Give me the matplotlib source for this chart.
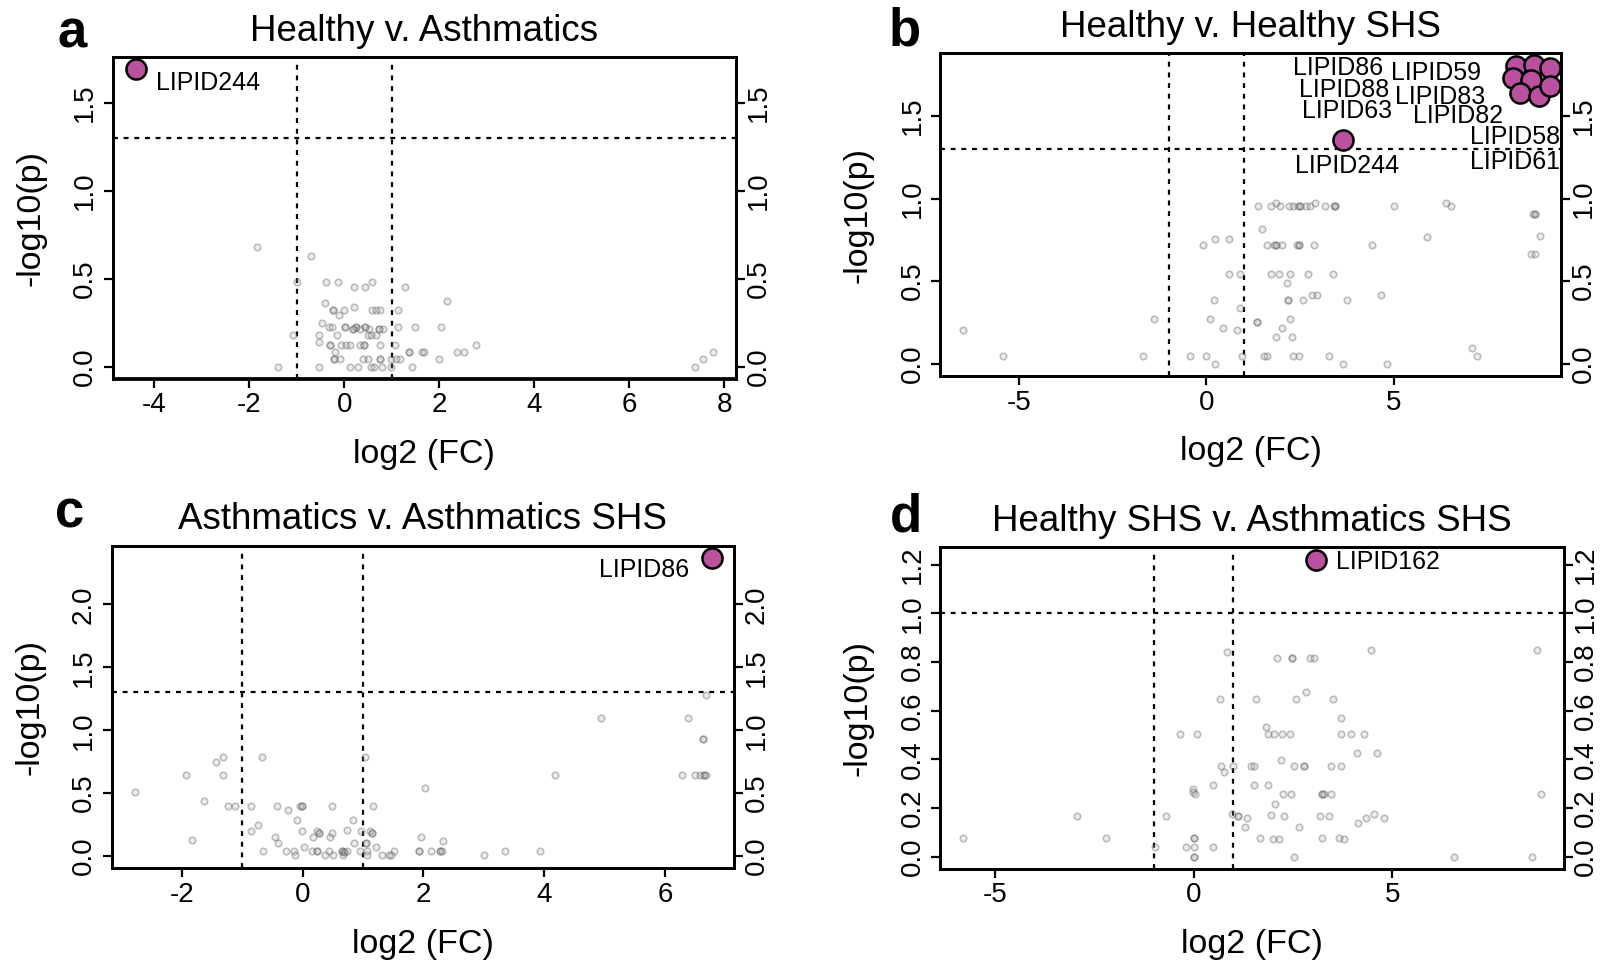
import matplotlib
matplotlib.use("Agg")
import matplotlib.pyplot as plt
from matplotlib.ticker import FormatStrFormatter

plt.rcParams['font.family'] = ['Liberation Sans', 'DejaVu Sans']
plt.rcParams['axes.unicode_minus'] = False

W, H = 1604, 966

# ---- panel a : Healthy v. Asthmatics ----
a_fc = [-1.83, -0.71,
        -0.99, -0.38, -0.13, 0.58,
        0.20, 0.44, 1.27,
        2.16, -0.41, 0.21,
        -0.23, -0.23, 0.00, 0.58, 0.66, 0.75, 1.14,
        -0.12, -0.47,
        -0.33, -0.25, 0.02, 0.02, 0.25, 0.25, 0.44, 0.44, 1.14, 1.48, 2.04,
        0.19, 0.19, 0.32, 0.52, 0.74, 0.74, 0.81,
        -1.09, -0.53, -0.15, 0.50, 0.57, 0.66,
        -0.53,
        -0.30, -0.30, -0.07, 0.03, 0.12, 0.32, 0.42, 0.42, 0.75, 1.06, 2.78,
        -0.19, 1.37, 1.37, 1.64, 1.68, 2.38, 2.52, 7.75,
        -0.21, -0.21, -0.09, 0.40, 0.49, 0.75, 0.75, 0.99, 1.09, 1.17, 2.00, 7.56,
        -1.40, -0.53, 0.12, 0.28, 0.56, 0.63, 0.80, 0.99, 1.42, 7.39]
a_logp = [0.68, 0.63,
          0.48, 0.48, 0.48, 0.48,
          0.45, 0.45, 0.45,
          0.37, 0.36, 0.34,
          0.32, 0.32, 0.32, 0.32, 0.32, 0.32, 0.32,
          0.29, 0.245,
          0.225, 0.225, 0.225, 0.225, 0.225, 0.225, 0.225, 0.225, 0.225, 0.225, 0.225,
          0.215, 0.215, 0.215, 0.215, 0.215, 0.215, 0.215,
          0.18, 0.18, 0.18, 0.18, 0.18, 0.18,
          0.14,
          0.12, 0.12, 0.12, 0.12, 0.12, 0.12, 0.12, 0.12, 0.12, 0.12, 0.12,
          0.08, 0.08, 0.08, 0.08, 0.08, 0.08, 0.08, 0.08,
          0.04, 0.04, 0.04, 0.04, 0.04, 0.04, 0.04, 0.04, 0.04, 0.04, 0.04, 0.04,
          0.0, 0.0, 0.0, 0.0, 0.0, 0.0, 0.0, 0.0, 0.0, 0.0]
a_sig_fc = [-4.39]
a_sig_logp = [1.69]
a_sig_names = ["LIPID244"]

# ---- panel b : Healthy v. Healthy SHS ----
b_fc = [1.87, 2.89, 6.39,
        1.39, 1.72, 1.97, 2.21, 2.30, 2.45, 2.50, 2.50, 2.67, 2.76, 3.17, 3.40, 3.43, 3.43, 5.01, 6.53,
        8.72, 8.77, 8.77,
        1.48, 8.91, 5.88, 0.24, 0.62,
        -0.08, 1.61, 1.80, 1.85, 1.85, 2.02, 2.43, 2.47, 2.47, 2.88, 4.42,
        8.66, 8.76,
        0.60, 0.91, 1.72, 1.94, 2.23, 2.71, 3.38,
        2.14, 2.82, 2.94, 4.67,
        0.21, 2.17, 2.17, 2.59, 3.76,
        0.91, -1.38, 0.09, 2.23, 1.34, 1.34, 0.45, 2.02, -6.49, 0.81, 1.86, 2.28, 7.08,
        -5.43, -1.69, -0.43, 0.00, 0.95, 1.53, 1.61, 2.30, 2.46, 3.28, 7.23,
        0.23, 3.65, 4.83]
b_logp = [0.976, 0.976, 0.976,
          0.956, 0.956, 0.956, 0.956, 0.956, 0.956, 0.956, 0.956, 0.956, 0.956, 0.956, 0.956, 0.956, 0.956, 0.956, 0.956,
          0.905, 0.905, 0.905,
          0.818, 0.774, 0.768, 0.754, 0.754,
          0.721, 0.721, 0.721, 0.721, 0.721, 0.721, 0.721, 0.721, 0.721, 0.721, 0.721,
          0.663, 0.663,
          0.543, 0.543, 0.543, 0.543, 0.543, 0.543, 0.543,
          0.487, 0.416, 0.416, 0.416,
          0.384, 0.384, 0.384, 0.384, 0.384,
          0.335, 0.273, 0.273, 0.273, 0.253, 0.253, 0.214, 0.214, 0.204, 0.204, 0.162, 0.162, 0.093,
          0.046, 0.046, 0.046, 0.046, 0.046, 0.046, 0.046, 0.046, 0.046, 0.046, 0.046,
          0.0, 0.0, 0.0]
b_sig_fc = [8.26, 8.75, 8.17, 8.65, 8.37, 8.87, 9.17, 9.17, 3.65]
b_sig_logp = [1.80, 1.81, 1.73, 1.72, 1.64, 1.62, 1.79, 1.68, 1.353]
b_sig_names = ["LIPID86", "LIPID59", "LIPID88", "LIPID83", "LIPID63",
               "LIPID82", "LIPID58", "LIPID61", "LIPID244"]

# ---- panel c : Asthmatics v. Asthmatics SHS ----
c_fc = [6.67, 4.94, 6.38, 6.63, 6.63,
        -1.31, -0.67, 1.03, -1.43,
        -1.93, -1.31, 4.18, 6.28, 6.50, 6.58, 6.64, 6.64, 6.68,
        2.03, -2.78, -1.64,
        -1.23, -1.12, -0.85, -0.42, -0.04, -0.01, -0.01, 0.48, 1.16,
        -0.25, -0.09, 0.83, -0.74, 0.73,
        -0.86, -0.01, 0.23, 0.96, 1.11,
        0.27, 0.27, 0.49, 1.15, 1.15,
        -0.46, 0.18, 0.46, 1.96,
        -1.83, 2.32, -0.40, 0.85, 1.05, 1.05, 0.02, 1.22,
        -0.65, -0.28, -0.15, 0.16, 0.23, 0.23, 0.43, 0.65, 0.65, 0.69, 0.69, 0.73,
        0.95, 1.06, 1.51, 1.92, 1.92, 2.13, 2.28, 2.28, 2.30, 3.35, 3.93,
        -0.12, 0.37, 0.50, 0.67, 1.07, 1.31, 1.43, 1.47, 3.01]
c_logp = [1.28, 1.10, 1.10, 0.93, 0.93,
          0.79, 0.79, 0.79, 0.75,
          0.645, 0.645, 0.648, 0.648, 0.648, 0.648, 0.648, 0.648, 0.648,
          0.545, 0.51, 0.434,
          0.394, 0.394, 0.394, 0.394, 0.394, 0.394, 0.394, 0.394, 0.394,
          0.37, 0.29, 0.29, 0.243, 0.206,
          0.196, 0.196, 0.196, 0.196, 0.196,
          0.18, 0.18, 0.185, 0.18, 0.18,
          0.153, 0.153, 0.153, 0.153,
          0.127, 0.117, 0.106, 0.106, 0.106, 0.106, 0.074, 0.074,
          0.04, 0.04, 0.04, 0.04, 0.04, 0.04, 0.04, 0.04, 0.04, 0.03, 0.03, 0.04,
          0.04, 0.04, 0.04, 0.04, 0.04, 0.04, 0.04, 0.04, 0.04, 0.04, 0.04,
          0.008, 0.008, 0.008, 0.008, 0.008, 0.008, 0.008, 0.008, 0.008]
c_sig_fc = [6.77]
c_sig_logp = [2.37]
c_sig_names = ["LIPID86"]

# ---- panel d : Healthy SHS v. Asthmatics SHS ----
d_fc = [4.46, 8.64, 0.83,
        2.11, 2.47, 2.47, 2.94, 3.02,
        2.84, 0.66, 1.57, 2.58, 3.52, 3.71, 1.83,
        -0.34, 0.07, 1.88, 2.02, 2.22, 2.42, 3.71, 3.96, 4.30,
        4.12, 4.62, 2.19,
        0.68, 1.00, 1.43, 1.51, 2.53, 2.78, 2.78, 3.46, 3.70,
        0.75, 0.49, 1.51, 1.86, -0.01, -0.01,
        0.03, 2.26, 2.46, 3.23, 3.23, 3.29, 3.45, 8.75,
        2.04, 0.97, 1.94, 4.54,
        -2.94, -0.71, 1.12, 1.12, 2.28, 3.18, 3.42,
        1.33, 4.33, 4.80, 4.13, 1.28, 2.66,
        -5.81, -2.22, 0.00, 0.00, 3.23, 3.65, 1.66, 1.99, 2.14, 3.78,
        -0.19, -0.99, 0.00, 0.49,
        0.00, 0.00, 2.53, 6.55, 8.53]
d_logp = [0.851, 0.851, 0.840,
          0.815, 0.815, 0.815, 0.815, 0.815,
          0.675, 0.648, 0.648, 0.648, 0.648, 0.571, 0.532,
          0.505, 0.505, 0.505, 0.505, 0.505, 0.505, 0.505, 0.505, 0.505,
          0.425, 0.425, 0.397,
          0.371, 0.371, 0.371, 0.371, 0.371, 0.371, 0.371, 0.371, 0.371,
          0.347, 0.293, 0.293, 0.293, 0.278, 0.267,
          0.258, 0.258, 0.258, 0.258, 0.258, 0.258, 0.258, 0.258,
          0.216, 0.175, 0.171, 0.174,
          0.168, 0.168, 0.168, 0.168, 0.168, 0.168, 0.168,
          0.158, 0.158, 0.158, 0.137, 0.123, 0.121,
          0.078, 0.078, 0.078, 0.078, 0.078, 0.078, 0.075, 0.071, 0.071, 0.071,
          0.041, 0.038, 0.038, 0.038,
          0.0, 0.0, 0.0, 0.0, 0.0]
d_sig_fc = [3.09]
d_sig_logp = [1.219]
d_sig_names = ["LIPID162"]

HILITE = '#B9519F'


def draw_panel(box, letter, title, fc, logp, sig_fc, sig_logp, names, offsets,
               xlim, ylim, xticks, yticks, thresh):
    # box is (left, top, right, bottom) in pixels
    l, t, r, b = box
    ax = fig.add_axes([l / W, 1 - b / H, (r - l) / W, (b - t) / H])
    ax.set_xlim(xlim)
    ax.set_ylim(ylim)

    ax.scatter(fc, logp, s=22, facecolor=(0.65, 0.65, 0.65, 0.2),
               edgecolor=(0.4, 0.4, 0.4, 0.4), linewidth=1.2, zorder=2)

    ax.axvline(-1, color='black', lw=1.6, ls=(0, (2.2, 2.6)), zorder=1)
    ax.axvline(1, color='black', lw=1.6, ls=(0, (2.2, 2.6)), zorder=1)
    ax.axhline(thresh, color='black', lw=1.6, ls=(0, (2.2, 2.6)), zorder=1)

    ax.scatter(sig_fc, sig_logp, s=210, c=HILITE, edgecolor='black',
               linewidth=1.8, zorder=4, clip_on=False)
    for x, y, name, off in zip(sig_fc, sig_logp, names, offsets):
        ax.annotate(name, (x, y), xytext=off, textcoords='offset pixels',
                    ha='center', va='center', fontsize=18, zorder=5)

    ax.set_xticks(xticks)
    ax.set_yticks(yticks)
    ax.yaxis.set_major_formatter(FormatStrFormatter('%.1f'))
    for s in ax.spines.values():
        s.set_linewidth(2.0)
    ax.tick_params(axis='x', length=6.5, width=1.6, pad=3.5, labelsize=20)
    ax.tick_params(axis='y', length=6.5, width=1.6, pad=4, labelsize=20,
                   labelrotation=90)
    for lab in ax.get_yticklabels():
        lab.set_va('center')

    ax2 = ax.twinx()
    ax2.set_ylim(ylim)
    ax2.set_yticks(yticks)
    ax2.yaxis.set_major_formatter(FormatStrFormatter('%.1f'))
    ax2.tick_params(axis='y', length=6.5, width=1.6, pad=0.5, labelsize=20,
                    labelrotation=90)
    for lab in ax2.get_yticklabels():
        lab.set_va('center')
    for s in ax2.spines.values():
        s.set_linewidth(2.0)

    ax.set_title(title, fontsize=26.5, pad=12)
    ax.annotate('log2 (FC)', (0.5, 0), xycoords='axes fraction', xytext=(0, -76),
                textcoords='offset pixels', ha='center', va='center', fontsize=24.5)
    ax.annotate('-log10(p)', (0, 0.5), xycoords='axes fraction', xytext=(-82, 0),
                textcoords='offset pixels', ha='center', va='center',
                fontsize=24.5, rotation=90)
    return ax


fig = plt.figure(figsize=(W / 100, H / 100), dpi=100)

draw_panel((112.5, 57.3, 735.8, 378.5), 'a', 'Healthy v. Asthmatics',
           a_fc, a_logp, a_sig_fc, a_sig_logp, a_sig_names, [(72, -14)],
           (-4.88, 8.24), (-0.068, 1.757), [-4, -2, 0, 2, 4, 6, 8],
           [0.0, 0.5, 1.0, 1.5], 1.301)

b_offsets = [(-178, -2), (-98, -8), (-169, -12), (-91, -17), (-173, -18),
             (-81, -20), (-35, -69), (-35, -76), (4, -26)]
draw_panel((940.3, 53.3, 1560.7, 376), 'b', 'Healthy v. Healthy SHS',
           b_fc, b_logp, b_sig_fc, b_sig_logp, b_sig_names, b_offsets,
           (-7.09, 9.45), (-0.074, 1.879), [-5, 0, 5],
           [0.0, 0.5, 1.0, 1.5], 1.301)

draw_panel((111.7, 546, 734, 868), 'c', 'Asthmatics v. Asthmatics SHS',
           c_fc, c_logp, c_sig_fc, c_sig_logp, c_sig_names, [(-68, -12)],
           (-3.16, 7.14), (-0.095, 2.465), [-2, 0, 2, 4, 6],
           [0.0, 0.5, 1.0, 1.5, 2.0], 1.301)

draw_panel((940.3, 547.3, 1563.5, 868.6), 'd', 'Healthy SHS v. Asthmatics SHS',
           d_fc, d_logp, d_sig_fc, d_sig_logp, d_sig_names, [(72, -2)],
           (-6.39, 9.32), (-0.049, 1.271), [-5, 0, 5],
           [0.0, 0.2, 0.4, 0.6, 0.8, 1.0, 1.2], 1.0)

# panel letters
for letter, px, py in [('a', 72, 47), ('b', 905, 46), ('c', 70, 527), ('d', 906, 532)]:
    fig.text(px / W, 1 - py / H, letter, ha='center', va='baseline',
             fontsize=38, fontweight='bold')

fig.savefig('out.png', dpi=100)
